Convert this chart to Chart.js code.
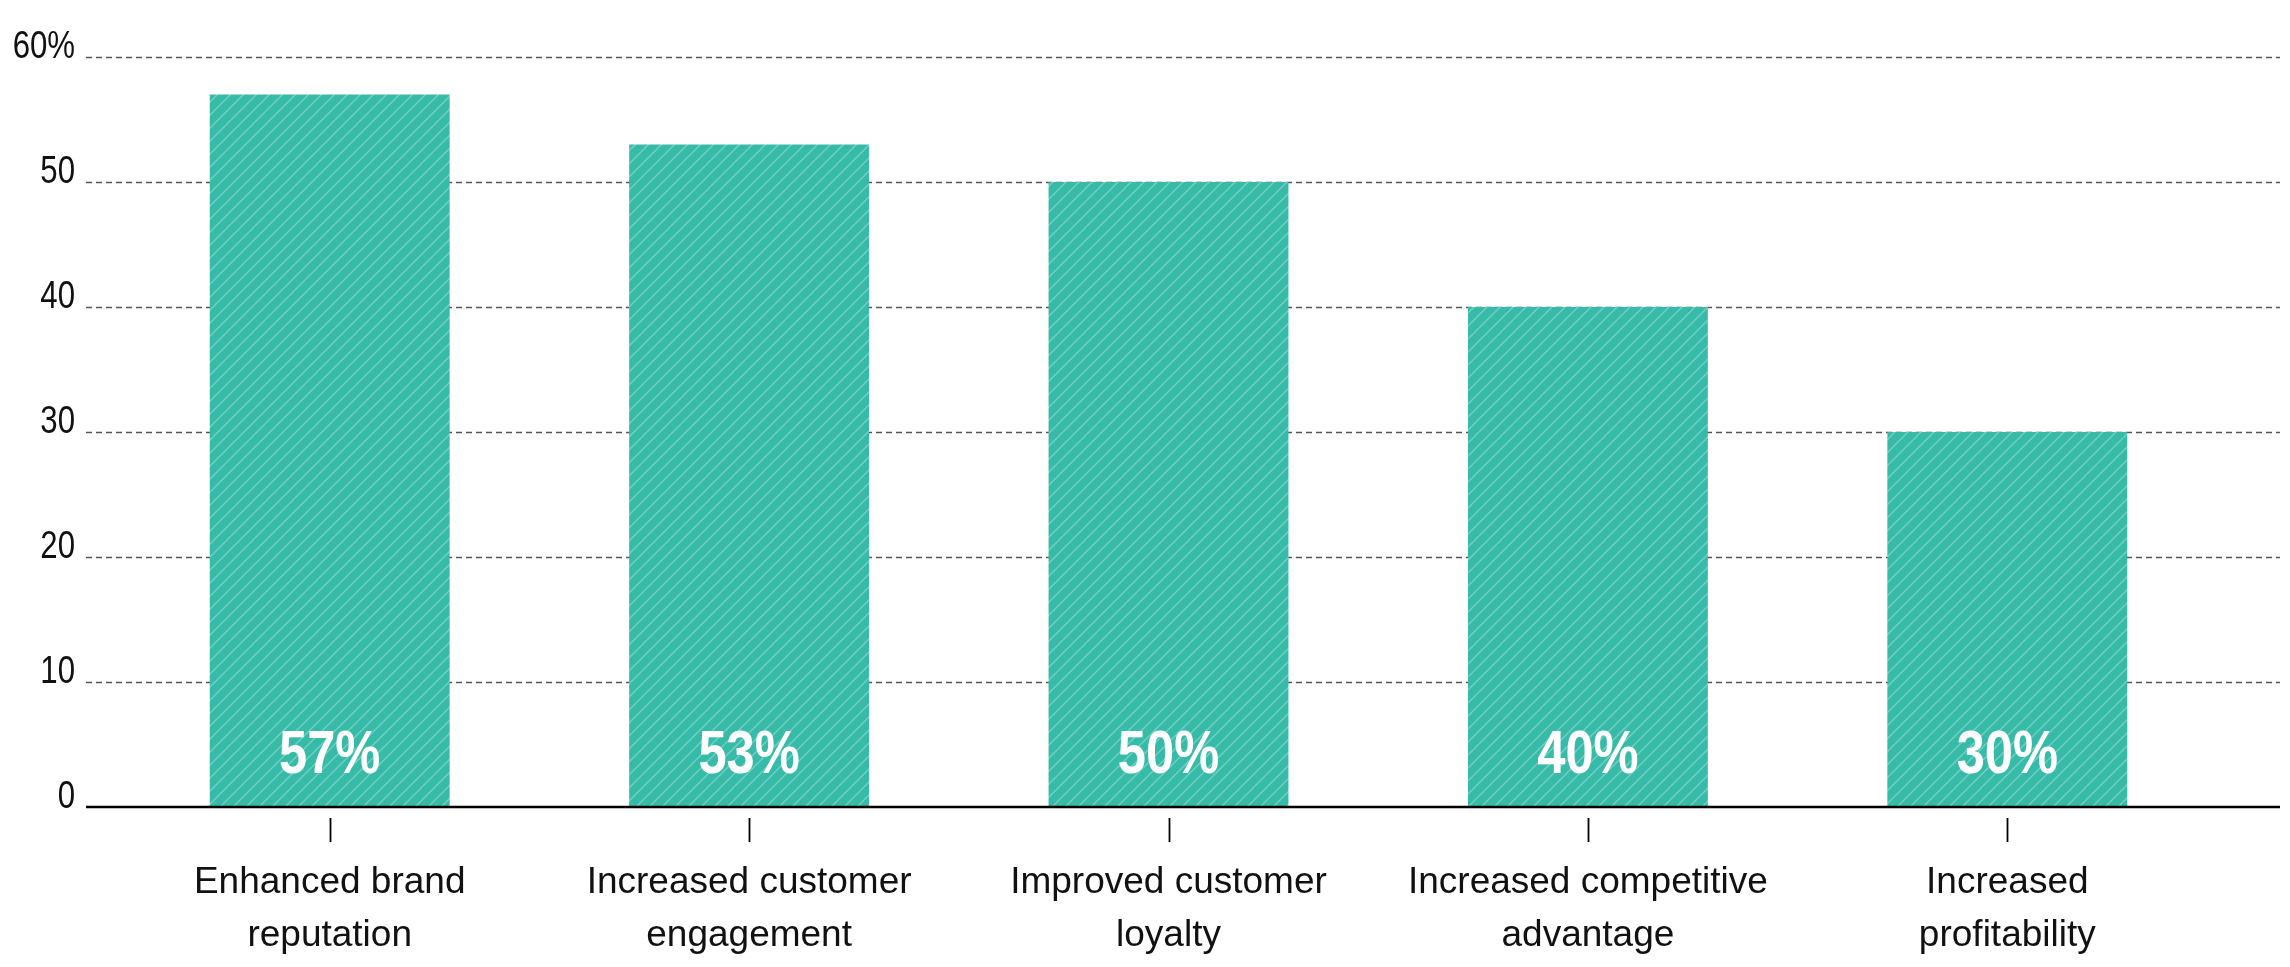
<!DOCTYPE html>
<html>
<head>
<meta charset="utf-8">
<script src="https://cdn.jsdelivr.net/npm/chart.js@4"></script>
<style>
  html, body { margin: 0; padding: 0; background: #fff; }
  #wrap { width: 2290px; height: 967px; position: relative; }
</style>
</head>
<body>
<div id="wrap"><canvas id="chart"></canvas></div>
<script>
const categories = [
    ['Enhanced brand', 'reputation'],
    ['Increased customer', 'engagement'],
    ['Improved customer', 'loyalty'],
    ['Increased competitive', 'advantage'],
    ['Increased', 'profitability']
];
const shares = [57, 53, 50, 40, 30];
const yTicks = [0, 10, 20, 30, 40, 50, 60];
const yTickLabels = ['0', '10', '20', '30', '40', '50', '60%'];

const TEAL = '#35bba8';
const FONT = '"Liberation Sans", Arial, sans-serif';

// diagonal hatch over the teal fill
function hatch() {
    const size = 13;
    const c = document.createElement('canvas');
    c.width = size; c.height = size;
    const g = c.getContext('2d');
    g.fillStyle = TEAL;
    g.fillRect(0, 0, size, size);
    g.strokeStyle = 'rgba(255,255,255,0.3)';
    g.lineWidth = 1.5;
    g.beginPath();
    g.moveTo(-2, size + 2); g.lineTo(size + 2, -2);
    g.moveTo(-2, 2); g.lineTo(2, -2);
    g.moveTo(size - 2, size + 2); g.lineTo(size + 2, size - 2);
    g.stroke();
    return g.createPattern(c, 'repeat');
}

// narrow text: squeeze regular Liberation Sans horizontally
function narrowText(ctx, text, x, y, squeeze) {
    ctx.save();
    ctx.translate(x, y);
    ctx.scale(squeeze, 1);
    ctx.fillText(text, 0, 0);
    ctx.restore();
}

const GRID_LEFT = 86, GRID_RIGHT = 2280;

const decorPlugin = {
    id: 'decor',
    beforeDatasetsDraw(chart) {
        const ctx = chart.ctx, y = chart.scales.y;
        ctx.save();
        ctx.strokeStyle = '#555';
        ctx.lineWidth = 1.5;
        ctx.setLineDash([6, 4]);
        yTicks.forEach(v => {
            if (v === 0) return;
            const py = Math.round(y.getPixelForValue(v)) + 0.5;
            ctx.beginPath();
            ctx.moveTo(GRID_LEFT, py);
            ctx.lineTo(GRID_RIGHT, py);
            ctx.stroke();
        });
        ctx.setLineDash([]);
        // y labels sit on top of their gridline
        ctx.fillStyle = '#111';
        ctx.font = '38px ' + FONT;
        ctx.textAlign = 'right';
        ctx.textBaseline = 'alphabetic';
        yTicks.forEach((v, i) => {
            narrowText(ctx, yTickLabels[i], 75, y.getPixelForValue(v) + 1, 0.82);
        });
        ctx.restore();
    },
    afterDatasetsDraw(chart) {
        const ctx = chart.ctx, x = chart.scales.x, y = chart.scales.y;
        const zero = y.getPixelForValue(0);
        ctx.save();
        // baseline
        ctx.strokeStyle = '#000';
        ctx.lineWidth = 2.5;
        ctx.beginPath();
        ctx.moveTo(GRID_LEFT, zero);
        ctx.lineTo(GRID_RIGHT, zero);
        ctx.stroke();
        // small ticks under each category
        ctx.lineWidth = 1.8;
        categories.forEach((c, i) => {
            const px = Math.round(x.getPixelForValue(i)) + 0.5;
            ctx.beginPath();
            ctx.moveTo(px, zero + 11);
            ctx.lineTo(px, zero + 35);
            ctx.stroke();
        });
        // value labels inside bars
        ctx.fillStyle = '#fff';
        ctx.font = 'bold 61px ' + FONT;
        ctx.textAlign = 'center';
        ctx.textBaseline = 'alphabetic';
        chart.getDatasetMeta(0).data.forEach((bar, i) => {
            narrowText(ctx, shares[i] + '%', bar.x, zero - 34, 0.83);
        });
        ctx.restore();
    }
};

new Chart(document.getElementById('chart'), {
    type: 'bar',
    data: {
        labels: categories,
        datasets: [{
            data: shares,
            backgroundColor: hatch(),
            borderWidth: 0,
            categoryPercentage: 1,
            barPercentage: 0.572
        }]
    },
    options: {
        responsive: true,
        maintainAspectRatio: false,
        animation: false,
        layout: { padding: { left: 14, right: 73, top: 57, bottom: 10 } },
        plugins: { legend: { display: false }, tooltip: { enabled: false } },
        scales: {
            x: {
                grid: { display: false },
                border: { display: false },
                afterFit(scale) { scale.height = 150; },
                ticks: {
                    color: '#111',
                    padding: 42,
                    font: { family: FONT, size: 37, lineHeight: 1.42 },
                    maxRotation: 0,
                    autoSkip: false
                }
            },
            y: {
                min: 0,
                max: 60,
                grid: { display: false },
                border: { display: false },
                afterBuildTicks(scale) {
                    scale.ticks = yTicks.map(v => ({ value: v }));
                },
                afterFit(scale) { scale.width = 106; },
                ticks: { display: false }
            }
        }
    },
    plugins: [decorPlugin]
});
</script>
</body>
</html>
